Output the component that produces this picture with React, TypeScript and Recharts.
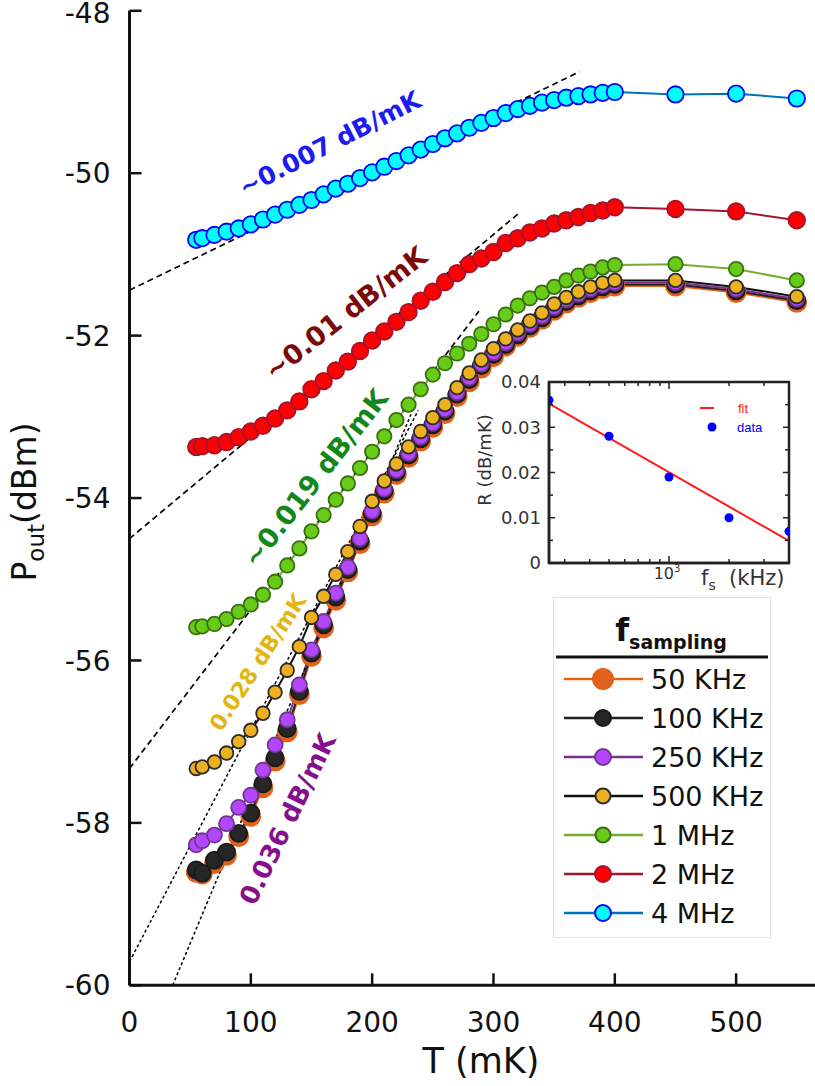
import React from "react";
import { ComposedChart, Line, XAxis, YAxis, ReferenceDot, ReferenceArea } from "recharts";

// temperatures (mK) shared by all sweeps
const temps = [55, 60, 70, 80, 90, 100, 110, 120, 130, 140, 150, 160, 170, 180, 190, 200, 210, 220, 230, 240, 250, 260, 270, 280, 290, 300, 310, 320, 330, 340, 350, 360, 370, 380, 390, 400, 450, 500, 550];

// P_out (dBm) per sampling frequency
const p50k = [-58.61, -58.63, -58.5, -58.4, -58.17, -57.92, -57.57, -57.24, -56.88, -56.42, -55.95, -55.6, -55.26, -54.91, -54.56, -54.22, -53.94, -53.71, -53.5, -53.3, -53.13, -52.96, -52.75, -52.57, -52.4, -52.26, -52.13, -52.01, -51.9, -51.8, -51.69, -51.6, -51.53, -51.47, -51.42, -51.39, -51.39, -51.47, -51.59];
const p100k = [-58.58, -58.62, -58.46, -58.36, -58.13, -57.88, -57.52, -57.2, -56.84, -56.38, -55.91, -55.56, -55.22, -54.88, -54.53, -54.19, -53.91, -53.68, -53.47, -53.27, -53.1, -52.93, -52.72, -52.54, -52.37, -52.23, -52.11, -51.99, -51.88, -51.78, -51.67, -51.58, -51.51, -51.45, -51.4, -51.37, -51.37, -51.45, -51.57];
const p250k = [-58.27, -58.22, -58.15, -58.01, -57.81, -57.66, -57.35, -57.04, -56.73, -56.3, -55.87, -55.52, -55.17, -54.85, -54.5, -54.16, -53.89, -53.66, -53.45, -53.25, -53.08, -52.91, -52.7, -52.52, -52.35, -52.21, -52.09, -51.97, -51.86, -51.76, -51.65, -51.56, -51.49, -51.43, -51.38, -51.35, -51.35, -51.43, -51.55];
const p500k = [-57.33, -57.31, -57.25, -57.14, -57.0, -56.86, -56.65, -56.39, -56.12, -55.83, -55.47, -55.21, -54.94, -54.66, -54.35, -54.04, -53.79, -53.58, -53.37, -53.18, -53.01, -52.85, -52.64, -52.46, -52.3, -52.16, -52.04, -51.93, -51.82, -51.72, -51.61, -51.53, -51.46, -51.4, -51.35, -51.32, -51.32, -51.4, -51.52];
const p1m = [-55.59, -55.58, -55.55, -55.49, -55.4, -55.31, -55.19, -55.03, -54.83, -54.62, -54.41, -54.21, -54.02, -53.82, -53.63, -53.43, -53.24, -53.04, -52.85, -52.66, -52.48, -52.34, -52.22, -52.1, -51.98, -51.86, -51.74, -51.63, -51.54, -51.47, -51.4, -51.32, -51.26, -51.21, -51.16, -51.13, -51.12, -51.18, -51.32];
const p2m = [-53.37, -53.36, -53.35, -53.31, -53.25, -53.18, -53.11, -53.02, -52.92, -52.81, -52.66, -52.56, -52.43, -52.32, -52.19, -52.06, -51.95, -51.83, -51.71, -51.57, -51.46, -51.34, -51.23, -51.12, -51.05, -50.97, -50.86, -50.8, -50.73, -50.68, -50.62, -50.58, -50.54, -50.49, -50.46, -50.42, -50.44, -50.47, -50.58];
const p4m = [-50.82, -50.8, -50.76, -50.72, -50.68, -50.63, -50.57, -50.51, -50.45, -50.39, -50.33, -50.26, -50.19, -50.13, -50.06, -49.99, -49.92, -49.85, -49.78, -49.71, -49.64, -49.57, -49.51, -49.44, -49.38, -49.32, -49.26, -49.21, -49.17, -49.13, -49.1, -49.07, -49.05, -49.03, -49.01, -49.0, -49.03, -49.02, -49.08];

const seriesNames = ["50 KHz", "100 KHz", "250 KHz", "500 KHz", "1 MHz", "2 MHz", "4 MHz"];
const seriesValues = [p50k, p100k, p250k, p500k, p1m, p2m, p4m];

// linear fits (start / end points)
const fitStartT = [0, 0, 0, 0, 35.6];
const fitStartP = [-51.44, -54.5, -57.33, -59.71, -60];
const fitEndT = [371, 322, 288, 238, 232];
const fitEndP = [-48.75, -50.48, -51.7, -52.92, -52.97];

const xTicks = [0, 100, 200, 300, 400, 500];
const yTicks = [-60, -58, -56, -54, -52, -50, -48];

// inset: slope R vs sampling frequency
const insetFs = [250, 500, 1000, 2000, 4000];
const insetR = [0.036, 0.028, 0.019, 0.01, 0.007];
const insetFitFs = [250, 4000];
const insetFitR = [0.0352, 0.0049];
const insetXTicks = [300, 400, 500, 600, 700, 800, 900, 1000, 2000, 3000];
const insetYTicks = [0, 0.005, 0.01, 0.015, 0.02, 0.025, 0.03, 0.035, 0.04];

const FONT = "'DejaVu Sans', Verdana, sans-serif";

const styles = [
  { line: "#e2611b", fill: "#e2611b", edge: "#e2611b", r: 9.5 },
  { line: "#222222", fill: "#262626", edge: "#1a1a1a", r: 8.5 },
  { line: "#7e2f8e", fill: "#b347ff", edge: "#74358f", r: 7.5 },
  { line: "#111111", fill: "#edb120", edge: "#2b2b2b", r: 6.8 },
  { line: "#77ac30", fill: "#66cc18", edge: "#3a6e12", r: 7.2 },
  { line: "#a2142f", fill: "#ff0000", edge: "#a2142f", r: 8.3 },
  { line: "#0072bd", fill: "#00ffff", edge: "#0000ff", r: 8.2 },
];
const legendR = [10, 8, 8, 7.5, 7.5, 8, 8];

const notes = [
  { text: "~0.007 dB/mK", T: 165, P: -49.63, angle: -27, color: "#1c1cf2", size: 25 },
  { text: "~0.01 dB/mK", T: 178, P: -51.72, angle: -38, color: "#7a0a0a", size: 27 },
  { text: "~0.019 dB/mK", T: 153, P: -53.75, angle: -52, color: "#13871a", size: 27 },
  { text: "0.028 dB/mK", T: 105.5, P: -56.02, angle: -57, color: "#e3b510", size: 22 },
  { text: "0.036 dB/mK", T: 130, P: -57.95, angle: -64, color: "#86108c", size: 26 },
];

const rows = temps.map((T, i) => {
  const row: Record<string, number> = { T };
  seriesValues.forEach((vals, s) => {
    row["s" + s] = vals[i];
  });
  return row;
});

const insetPts = insetFs.map((fs, i) => ({ fs, r: insetR[i] }));
const insetFit = insetFitFs.map((fs, i) => ({ fs, r: insetFitR[i] }));

function MainXTick(props: any) {
  const { x, y, payload } = props;
  return (
    <g>
      <line x1={x} y1={y} x2={x} y2={y - 12} stroke="#111" strokeWidth={2.5} />
      <text x={x} y={y + 47} textAnchor="middle" fontFamily={FONT} fontSize={28} fill="#111">
        {payload.value}
      </text>
    </g>
  );
}

function MainYTick(props: any) {
  const { x, y, payload } = props;
  // top label nudged down a little so it stays inside the page
  const nudge = payload.value === -48 ? 2 : 0;
  return (
    <g>
      <line x1={x} y1={y} x2={x + 12} y2={y} stroke="#111" strokeWidth={2.5} />
      <text x={x - 19} y={y + nudge} dy="0.36em" textAnchor="end" fontFamily={FONT} fontSize={28} fill="#111">
        {payload.value}
      </text>
    </g>
  );
}

const insetPlotW = 240;
const insetPlotH = 181;

function InsetXTick(props: any) {
  const { x, y, payload } = props;
  const major = payload.value === 1000;
  const len = major ? 7 : 4;
  return (
    <g>
      <line x1={x} y1={y} x2={x} y2={y - len} stroke="#222" strokeWidth={1.5} />
      <line x1={x} y1={y - insetPlotH} x2={x} y2={y - insetPlotH + len} stroke="#222" strokeWidth={1.5} />
      {major && (
        <text x={x - 2} y={y + 16} textAnchor="middle" fontFamily={FONT} fontSize={16} fill="#333">
          10<tspan dy={-7} fontSize={10}>3</tspan>
        </text>
      )}
    </g>
  );
}

function InsetYTick(props: any) {
  const { x, y, payload } = props;
  const v = payload.value;
  const major = Math.round(v * 1000) % 10 === 0;
  const len = major ? 6 : 4;
  return (
    <g>
      <line x1={x} y1={y} x2={x + len} y2={y} stroke="#222" strokeWidth={1.5} />
      <line x1={x + insetPlotW} y1={y} x2={x + insetPlotW - len} y2={y} stroke="#222" strokeWidth={1.5} />
      {major && (
        <text x={x - 8} y={y} dy="0.36em" textAnchor="end" fontFamily={FONT} fontSize={18} fill="#333">
          {v === 0 ? "0" : v.toFixed(2)}
        </text>
      )}
    </g>
  );
}

function MainLegend() {
  return (
    <div
      style={{
        position: "absolute",
        left: 553,
        top: 597,
        width: 216,
        height: 339,
        background: "#fff",
        border: "1px solid #e2e2e2",
      }}
    >
      <svg width={216} height={339}>
        <text x={117} y={43} textAnchor="middle" fontFamily={FONT} fontWeight="bold" fill="#111">
          <tspan fontSize={32}>f</tspan>
          <tspan fontSize={19} dy={8}>sampling</tspan>
        </text>
        <line x1={2} y1={59} x2={214} y2={59} stroke="#111" strokeWidth={3} />
        {seriesNames.map((name, i) => {
          const cy = 81 + i * 39;
          const st = styles[i];
          return (
            <g key={name}>
              <line x1={10} y1={cy} x2={89} y2={cy} stroke={st.line} strokeWidth={2.5} />
              <circle cx={49} cy={cy} r={legendR[i]} fill={st.fill} stroke={st.edge} strokeWidth={2} />
              <text x={97} y={cy} dy="0.36em" fontFamily={FONT} fontSize={27} fill="#111">
                {name}
              </text>
            </g>
          );
        })}
      </svg>
    </div>
  );
}

function Inset() {
  return (
    <div style={{ position: "absolute", left: 470, top: 360, width: 335, height: 235 }}>
      <ComposedChart width={335} height={235} margin={{ top: 22, right: 16, bottom: 0, left: 0 }}>
        <XAxis
          dataKey="fs"
          type="number"
          scale="log"
          domain={[250, 4000]}
          allowDataOverflow
          ticks={insetXTicks}
          interval={0}
          tickSize={0}
          tickMargin={0}
          height={32}
          tick={<InsetXTick />}
          axisLine={{ stroke: "#222", strokeWidth: 2.5 }}
        />
        <YAxis
          type="number"
          domain={[0, 0.04]}
          allowDataOverflow
          ticks={insetYTicks}
          interval={0}
          tickSize={0}
          tickMargin={0}
          width={79}
          tick={<InsetYTick />}
          axisLine={{ stroke: "#222", strokeWidth: 2.5 }}
        />
        <ReferenceArea x1={250} x2={4000} y1={0} y2={0.04} fill="none" stroke="#222" strokeWidth={2.5} ifOverflow="visible" />
        <Line data={insetFit} dataKey="r" stroke="#ff1a1a" strokeWidth={2} dot={false} isAnimationActive={false} />
        <Line
          data={insetPts}
          dataKey="r"
          stroke="none"
          dot={{ r: 4.5, fill: "#0000ff", stroke: "#0000ff", strokeWidth: 0 }}
          isAnimationActive={false}
        />
      </ComposedChart>
      <svg width={335} height={235} style={{ position: "absolute", left: 0, top: 0, pointerEvents: "none" }}>
        <text transform="translate(21,100) rotate(-90)" textAnchor="middle" fontFamily={FONT} fontSize={18} fill="#333">
          R (dB/mK)
        </text>
        <text x={231} y={225} fontFamily={FONT} fontSize={21} fill="#333">
          f<tspan fontSize={14} dy={5}>s</tspan>
          <tspan dy={-5}>{"\u00a0\u00a0(kHz)"}</tspan>
        </text>
        <line x1={230} y1={48} x2={244} y2={48} stroke="#ff1a1a" strokeWidth={2} />
        <text x={268} y={48} dy="0.36em" fontFamily="'Liberation Sans', Arial, sans-serif" fontSize={13} fill="#ff1a1a">
          fit
        </text>
        <circle cx={242} cy={67} r={4.5} fill="#0000ff" />
        <text x={267} y={67} dy="0.36em" fontFamily="'Liberation Sans', Arial, sans-serif" fontSize={13} fill="#0000ff">
          data
        </text>
      </svg>
    </div>
  );
}

export default function App() {
  return (
    <div style={{ position: "absolute", left: 0, top: 0, width: 815, height: 1086, background: "#fff" }}>
      <ComposedChart width={815} height={1086} data={rows} margin={{ top: 10.8, right: 0, bottom: 20.7, left: 0 }}>
        <XAxis
          dataKey="T"
          type="number"
          domain={[0, 565]}
          allowDataOverflow
          ticks={xTicks}
          interval={0}
          tickSize={0}
          tickMargin={0}
          height={80}
          tick={<MainXTick />}
          axisLine={{ stroke: "#111", strokeWidth: 3 }}
        />
        <YAxis
          type="number"
          domain={[-60, -48]}
          allowDataOverflow
          ticks={yTicks}
          interval={0}
          tickSize={0}
          tickMargin={0}
          width={129.5}
          tick={<MainYTick />}
          axisLine={{ stroke: "#111", strokeWidth: 3 }}
        />
        {seriesValues.map((_, s) => (
          <Line
            key={"s" + s}
            dataKey={"s" + s}
            type="linear"
            stroke={styles[s].line}
            strokeWidth={2}
            dot={{ r: styles[s].r, fill: styles[s].fill, stroke: styles[s].edge, strokeWidth: 1.8 }}
            isAnimationActive={false}
          />
        ))}
        {fitStartT.map((t0, i) => (
          <Line
            key={"fit" + i}
            data={[
              { T: t0, P: fitStartP[i] },
              { T: fitEndT[i], P: fitEndP[i] },
            ]}
            dataKey="P"
            stroke="#000"
            strokeWidth={i < 3 ? 1.7 : 1.5}
            strokeDasharray={i < 3 ? "6 4" : "3 2.5"}
            dot={false}
            isAnimationActive={false}
          />
        ))}
        {notes.map((n) => (
          <ReferenceDot
            key={n.text}
            x={n.T}
            y={n.P}
            r={0}
            shape={(p: any) => (
              <text
                transform={`translate(${p.cx},${p.cy}) rotate(${n.angle})`}
                textAnchor="middle"
                dy="0.36em"
                fontFamily={FONT}
                fontWeight="bold"
                fontSize={n.size}
                fill={n.color}
              >
                {n.text}
              </text>
            )}
          />
        ))}
      </ComposedChart>
      <svg width={815} height={1086} style={{ position: "absolute", left: 0, top: 0, pointerEvents: "none" }}>
        <text transform="translate(36,502) rotate(-90)" textAnchor="middle" fontFamily={FONT} fontSize={33} fill="#111">
          P<tspan fontSize={23} dy={8}>out</tspan>
          <tspan dy={-8}>(dBm)</tspan>
        </text>
        <text x={481} y={1073} textAnchor="middle" fontFamily={FONT} fontSize={35} fill="#111">
          T (mK)
        </text>
      </svg>
      <Inset />
      <MainLegend />
    </div>
  );
}
